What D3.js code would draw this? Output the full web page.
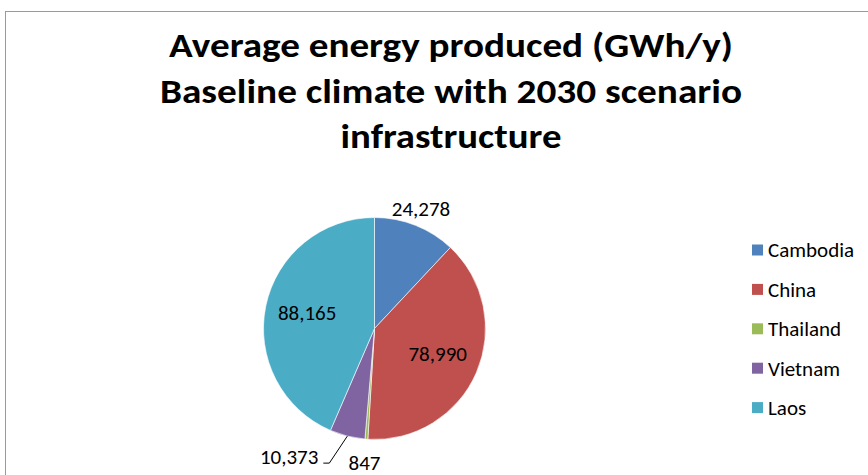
<!DOCTYPE html>
<html><head><meta charset="utf-8">
<script src="https://cdn.jsdelivr.net/npm/d3@7"></script>
<style>html,body{margin:0;padding:0;background:#fff;}svg{display:block;}</style>
</head><body>
<svg id="c" width="868" height="475"></svg>
<script>
const categories = ["Cambodia", "China", "Thailand", "Vietnam", "Laos"];
const values = [24278, 78990, 847, 10373, 88165];
const colors = ["#4F81BD", "#C0504D", "#9BBB59", "#8064A2", "#4BACC6"];
const titleLines = ["Average energy produced (GWh/y)", "Baseline climate with 2030 scenario", "infrastructure"];

const W = 868, H = 475;
const svg = d3.select("#c");
const fontFam = "Carlito, Calibri, 'Open Sans', sans-serif";

// frame
svg.append("rect").attr("x", 5.5).attr("y", 11.5).attr("width", 900).attr("height", 500)
  .attr("fill", "#fff").attr("stroke", "#9a9a9a").attr("stroke-width", 1);

// title
const titleX = 451, titleY0 = 57, titleDy = 45.5;
const titleWidths = [564, 582, 221];
svg.append("g").selectAll("text").data(titleLines).join("text")
  .attr("x", titleX).attr("y", (d, i) => titleY0 + i * titleDy)
  .attr("text-anchor", "middle")
  .attr("font-family", fontFam).attr("font-weight", "bold").attr("font-size", 35)
  .attr("textLength", (d, i) => titleWidths[i]).attr("lengthAdjust", "spacingAndGlyphs")
  .attr("fill", "#000").text(d => d);

// pie
const cx = 374.5, cy = 328.5, R = 111;
const pie = d3.pie().sort(null).value(d => d)(values);
const arc = d3.arc().innerRadius(0).outerRadius(R);
const g = svg.append("g").attr("transform", `translate(${cx},${cy})`);
g.selectAll("path").data(pie).join("path")
  .attr("d", arc).attr("fill", (d, i) => colors[i]).attr("stroke", "#fff").attr("stroke-width", 0.6);

// labels
const fmt = d3.format(",");
const labelR = [1.14, 0.62, 1.23, 1.0, 0.62];
const mid = d => (d.startAngle + d.endAngle) / 2;
const lbl = g.append("g").attr("font-family", fontFam).attr("font-size", 21).attr("fill", "#000");
pie.forEach((d, i) => {
  const a = mid(d), r = R * labelR[i];
  const x = r * Math.sin(a), y = -r * Math.cos(a);
  if (i === 3) {
    const p0 = [x, y];
    const p1 = [x - 18, y + 27];
    const p2 = [p1[0] - 6, p1[1]];
    g.append("path").attr("d", d3.line()([p0, p1, p2])).attr("fill", "none")
      .attr("stroke", "#000").attr("stroke-width", 1);
    lbl.append("text").attr("x", p2[0] - 5).attr("y", p2[1] + 1)
      .attr("text-anchor", "end").text(fmt(d.data));
  } else {
    lbl.append("text").attr("x", x).attr("y", y - 2).attr("dy", "0.35em")
      .attr("text-anchor", "middle").text(fmt(d.data));
  }
});

// legend
const leg = svg.append("g").attr("transform", "translate(752,250)");
const rows = leg.selectAll("g").data(categories).join("g")
  .attr("transform", (d, i) => `translate(0,${i * 39.4})`);
rows.append("rect").attr("x", 0).attr("y", -5.5).attr("width", 11).attr("height", 11)
  .attr("fill", (d, i) => colors[i]);
rows.append("text").attr("x", 16).attr("y", 0).attr("dy", "0.35em")
  .attr("font-family", fontFam).attr("font-size", 21).attr("fill", "#000").text(d => d);
</script>
</body></html>
